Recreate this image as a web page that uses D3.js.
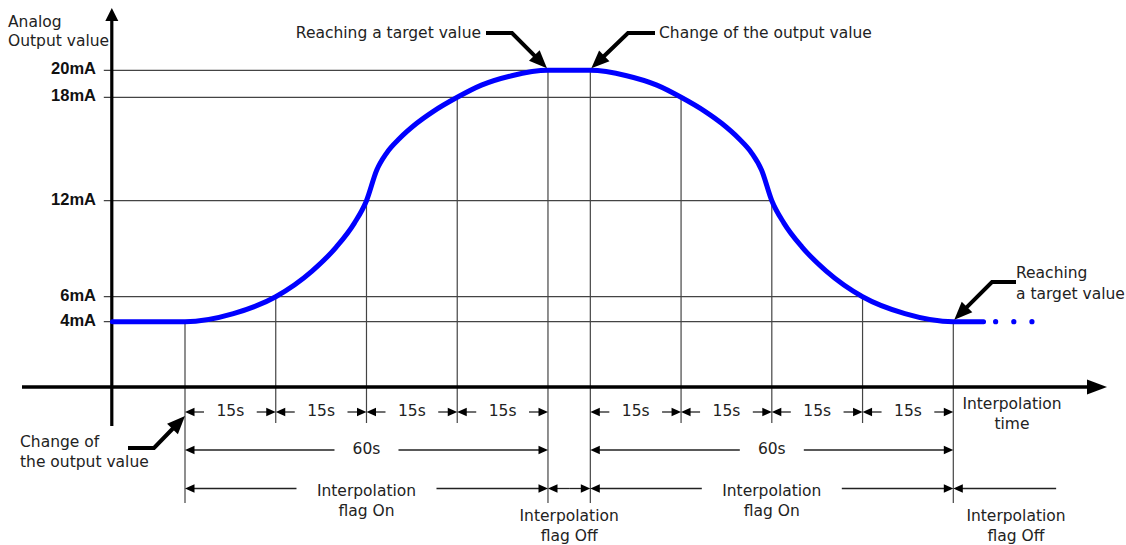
<!DOCTYPE html>
<html><head><meta charset="utf-8">
<script src="https://cdn.jsdelivr.net/npm/d3@7"></script>
<style>body{margin:0;background:#fff}svg{display:block}</style>
</head><body><svg id="c" width="1126" height="545"></svg>
<script>
// ---- data ----
const keyTimes = [0, 15, 30, 45, 60, 67, 82, 97, 112, 127];
const keyValues = [4, 6, 12, 18, 20, 20, 18, 12, 6, 4];
const yTickValues = [20, 18, 12, 6, 4];
const yTickLabels = ["20mA", "18mA", "12mA", "6mA", "4mA"];
const curveTimes = [-12, 0, 8, 15, 21, 25, 28, 30, 31.7, 33.3, 35.5, 38.3, 41, 45, 49, 54, 60,
                    67, 73, 78, 82, 86, 88.7, 91.5, 93.7, 95.3, 97, 99, 102, 106, 112, 119, 127, 132];
const curveValues = [4, 4, 4.65, 6, 7.6, 9.1, 10.6, 12, 13.78, 14.75, 15.62, 16.49, 17.17, 18, 18.9, 19.6, 20,
                     20, 19.6, 18.9, 18, 17.17, 16.49, 15.62, 14.75, 13.78, 12, 10.6, 9.1, 7.6, 6, 4.65, 4, 4];
const dotTimes = [134, 137, 140];
const dotValue = 4;
const stepFrom = [0, 15, 30, 45, 67, 82, 97, 112];
const stepTo = [15, 30, 45, 60, 82, 97, 112, 127];
const stepLabel = "15s";
const periodFrom = [0, 67];
const periodTo = [60, 127];
const periodLabel = "60s";
const flagFrom = [0, 60, 67, 127];
const flagTo = [60, 67, 127, 144];
const flagLabels = [["Interpolation", "flag On"], ["Interpolation", "flag Off"], ["Interpolation", "flag On"], ["Interpolation", "flag Off"]];
const yTitle = ["Analog", "Output value"];
const xTitle = ["Interpolation", "time"];
const calloutTexts = [["Reaching a target value"], ["Change of the output value"], ["Change of", "the output value"], ["Reaching", "a target value"]];

// ---- layout ----
const svg = d3.select("#c");
const x = d3.scaleLinear().domain([0, 127]).range([185, 953.3]);
const y = d3.scaleLinear().domain([0, 4, 6, 12, 18, 20]).range([387, 321.7, 296.7, 200.7, 97.3, 70.3]);
const originX = x(-12.1);
const axisY = y(0);
const row1 = 412, row2 = 450, row3 = 488.5;
const FONT = "'DejaVu Sans', sans-serif";
const textCol = "#222";
const gridCol = "#444";

function tri(tipX, tipY, dx, dy, L, w) {
  const bx = tipX - dx * L, by = tipY - dy * L;
  const nx = -dy, ny = dx;
  return [[tipX, tipY], [bx + nx * w, by + ny * w], [bx - nx * w, by - ny * w]];
}
function polyStr(p) { return p.map(d => d.join(",")).join(" "); }

// horizontal grid lines + y labels
yTickValues.forEach((v, i) => {
  let lastT = 0;
  keyTimes.forEach((t, j) => { if (keyValues[j] === v) lastT = t; });
  svg.append("line").attr("x1", originX - 8).attr("x2", x(lastT))
    .attr("y1", y(v)).attr("y2", y(v)).attr("stroke", gridCol).attr("stroke-width", 1.2);
  svg.append("text").attr("x", 96).attr("y", y(v) - 2).attr("text-anchor", "end")
    .attr("dominant-baseline", "central").attr("font-family", "'Liberation Sans', Arial, sans-serif")
    .attr("font-weight", "bold").attr("font-size", 16.5).attr("fill", "#111").text(yTickLabels[i]);
});

// vertical lines
const longTimes = new Set([...flagFrom, ...flagTo.slice(0, 3)]);
keyTimes.forEach((t, j) => {
  const bottom = longTimes.has(t) ? 503 : 423;
  svg.append("line").attr("x1", x(t)).attr("x2", x(t)).attr("y1", y(keyValues[j])).attr("y2", bottom)
    .attr("stroke", gridCol).attr("stroke-width", 1.2);
});

// axes
svg.append("line").attr("x1", originX).attr("x2", originX).attr("y1", 20).attr("y2", 426)
  .attr("stroke", "#000").attr("stroke-width", 3.2);
svg.append("polygon").attr("points", polyStr(tri(originX, 8, 0, -1, 13, 6.5))).attr("fill", "#000");
svg.append("line").attr("x1", 22).attr("x2", 1090).attr("y1", axisY).attr("y2", axisY)
  .attr("stroke", "#000").attr("stroke-width", 3.6);
svg.append("polygon").attr("points", polyStr(tri(1107, axisY, 1, 0, 20, 7.5))).attr("fill", "#000");

// curve
const pts = curveTimes.map((t, i) => [x(t), y(curveValues[i])]);
svg.append("path").attr("d", d3.line().curve(d3.curveMonotoneX)(pts))
  .attr("fill", "none").attr("stroke", "#0000ff").attr("stroke-width", 5).attr("stroke-linecap", "round");
dotTimes.forEach(t => svg.append("circle").attr("cx", x(t)).attr("cy", y(dotValue)).attr("r", 2.6).attr("fill", "#0000ff"));

// dimension helpers
function dimArrow(xTip, yy, dir, len) {
  const xEnd = xTip - dir * len;
  svg.append("line").attr("x1", xEnd).attr("x2", xTip - dir * 8).attr("y1", yy).attr("y2", yy)
    .attr("stroke", "#222").attr("stroke-width", 1.3);
  svg.append("polygon").attr("points", polyStr(tri(xTip, yy, dir, 0, 9.5, 4.3))).attr("fill", "#000");
}
function label(lines, cx, cy, lh, anchor) {
  const t = svg.append("text").attr("x", cx).attr("y", cy).attr("text-anchor", anchor || "middle")
    .attr("font-family", FONT).attr("font-size", 15.5).attr("fill", textCol).attr("dominant-baseline", "central");
  lines.forEach((s, i) => t.append("tspan").attr("x", cx).attr("dy", i === 0 ? 0 : lh).text(s));
}

// row 1: 15s
stepFrom.forEach((a, i) => {
  const x0 = x(a), x1 = x(stepTo[i]);
  dimArrow(x0, row1, -1, 19);
  dimArrow(x1, row1, 1, 19);
  label([stepLabel], (x0 + x1) / 2, row1 - 1);
});
// row 2: 60s
periodFrom.forEach((a, i) => {
  const x0 = x(a), x1 = x(periodTo[i]), cx = (x0 + x1) / 2;
  dimArrow(x0, row2, -1, cx - 32 - x0);
  dimArrow(x1, row2, 1, x1 - (cx + 32));
  label([periodLabel], cx, row2 - 1);
});
// row 3: flags
flagFrom.forEach((a, i) => {
  const x0 = x(a), x1 = x(flagTo[i]), cx = (x0 + x1) / 2;
  if (i === 0 || i === 2) {
    dimArrow(x0, row3, -1, cx - 70 - x0);
    dimArrow(x1, row3, 1, x1 - (cx + 70));
    label(flagLabels[i], cx, row3 + 2, 20.5);
  } else if (i === 1) {
    dimArrow(x0, row3, -1, (x1 - x0) / 2);
    dimArrow(x1, row3, 1, (x1 - x0) / 2);
    label(flagLabels[i], cx, 516, 19.5);
  } else {
    dimArrow(x0, row3, -1, x1 - x0);
    label(flagLabels[i], 1016, 516, 20);
  }
});

// axis titles
label(yTitle, 8, 22, 19, "start");
label(xTitle, 1012, 404, 20);

// callouts
function callout(lines, tx, ty, anchor, lh, p0, p1, tip) {
  label(lines, tx, ty, lh, anchor);
  const dx = tip[0] - p1[0], dy = tip[1] - p1[1], d = Math.hypot(dx, dy);
  const ux = dx / d, uy = dy / d, L = 18;
  svg.append("polyline").attr("points", polyStr([p0, p1, [tip[0] - ux * (L - 2), tip[1] - uy * (L - 2)]]))
    .attr("fill", "none").attr("stroke", "#000").attr("stroke-width", 4);
  svg.append("polygon").attr("points", polyStr(tri(tip[0], tip[1], ux, uy, L, 7.5))).attr("fill", "#000");
}
callout(calloutTexts[0], 481, 33, "end", 0, [486, 33], [512, 33], [x(60) - 1, y(20) - 2]);
callout(calloutTexts[1], 659, 33, "start", 0, [655, 33], [628, 33], [x(67) + 1, y(20) - 2]);
callout(calloutTexts[2], 20, 442, "start", 20, [128, 448], [154, 448], [x(0), row1 + 4]);
callout(calloutTexts[3], 1016, 273, "start", 21, [1016, 282], [992, 282], [x(127) + 1, y(4) - 2]);
</script></body></html>
